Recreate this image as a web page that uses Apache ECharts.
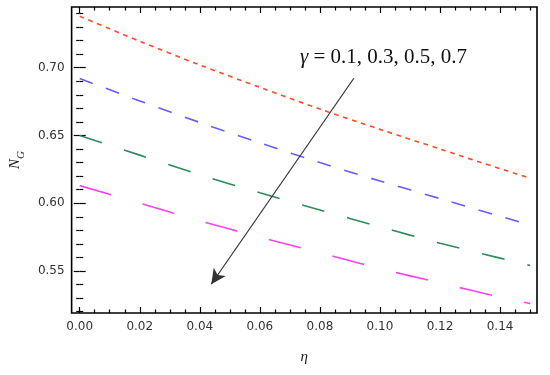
<!DOCTYPE html>
<html>
<head>
<meta charset="utf-8">
<script src="https://cdn.jsdelivr.net/npm/echarts@6/dist/echarts.min.js"></script>
<style>
html,body{margin:0;padding:0;background:#fff;}
#chart{width:550px;height:375px;}
</style>
</head>
<body>
<div id="chart"></div>
<script>
// ---- data ----
const eta = [0, 0.02, 0.04, 0.06, 0.08, 0.10, 0.12, 0.14, 0.15];
const ng1 = [0.738, 0.7195, 0.702, 0.6855, 0.6695, 0.6545, 0.640, 0.6255, 0.6185]; // gamma 0.1
const ng3 = [0.692, 0.6755, 0.6596, 0.6445, 0.6300, 0.6164, 0.6034, 0.5904, 0.584]; // gamma 0.3
const ng5 = [0.650, 0.6355, 0.621, 0.6077, 0.595, 0.5826, 0.5705, 0.5595, 0.554];  // gamma 0.5
const ng7 = [0.613, 0.600, 0.587, 0.575, 0.5635, 0.5517, 0.5412, 0.5307, 0.526];  // gamma 0.7
const xMajor = [0, 0.02, 0.04, 0.06, 0.08, 0.10, 0.12, 0.14];
const xMinor = [0.005,0.01,0.015,0.025,0.03,0.035,0.045,0.05,0.055,0.065,0.07,0.075,0.085,0.09,0.095,0.105,0.11,0.115,0.125,0.13,0.135,0.145,0.15];
const yMajor = [0.55, 0.60, 0.65, 0.70];
const yMinor = [0.52,0.53,0.54,0.56,0.57,0.58,0.59,0.61,0.62,0.63,0.64,0.66,0.67,0.68,0.69,0.71,0.72,0.73,0.74];
const arrowFrom = [0.0913, 0.6922];
const arrowTo = [0.0438, 0.5402];
const gammaLabel = '{g|γ} = 0.1, 0.3, 0.5, 0.7';

const X_MIN = -0.0027, X_MAX = 0.1523;
const Y_MIN = 0.519, Y_MAX = 0.7448;

function pair(xs, ys){ return xs.map((x,i)=>[x, ys[i]]); }

const labelStyle = {fontFamily:'DejaVu Sans', fontSize:12, color:'#333'};

function xAx(pos, vals, len, labels){
  return {
    type:'value', min:X_MIN, max:X_MAX, position:pos,
    axisLine:{show:false},
    splitLine:{show:false},
    axisTick:{show:true, inside:true, length:len, customValues:vals, lineStyle:{color:'#000', width:1.2}},
    axisLabel: labels ? Object.assign({show:true, margin:8, customValues:vals, formatter:v=>v.toFixed(2)}, labelStyle) : {show:false}
  };
}
function yAx(pos, vals, len, labels){
  return {
    type:'value', min:Y_MIN, max:Y_MAX, position:pos,
    axisLine:{show:false},
    splitLine:{show:false},
    axisTick:{show:true, inside:true, length:len, customValues:vals, lineStyle:{color:'#000', width:1.2}},
    axisLabel: labels ? Object.assign({show:true, margin:7, customValues:vals, formatter:v=>v.toFixed(2)}, labelStyle) : {show:false}
  };
}

const xAxes = [xAx('bottom', xMajor, 6, true), xAx('bottom', xMinor, 3.5, false), xAx('top', xMajor, 6, false), xAx('top', xMinor, 3.5, false)];
xAxes[0].name = 'η';
xAxes[0].nameLocation = 'middle';
xAxes[0].nameGap = 37;
xAxes[0].nameTextStyle = {fontFamily:'Liberation Serif', fontStyle:'italic', fontSize:15, color:'#222'};

const yAxes = [yAx('left', yMajor, 6, true), yAx('left', yMinor, 3.5, false), yAx('right', yMajor, 6, false), yAx('right', yMinor, 3.5, false)];
yAxes[0].name = '{n|N}{g|G}';
yAxes[0].nameLocation = 'middle';
yAxes[0].nameGap = 44;
yAxes[0].nameTextStyle = {
  color:'#222',
  rich:{
    n:{fontFamily:'Liberation Serif', fontStyle:'italic', fontSize:15, color:'#222', verticalAlign:'top'},
    g:{fontFamily:'Liberation Serif', fontStyle:'italic', fontSize:11, color:'#222', padding:[8,0,0,0], verticalAlign:'top'}
  }
};

function lineSeries(ys, color, dash, extra){
  return Object.assign({
    type:'line', data:pair(eta, ys), xAxisIndex:0, yAxisIndex:0,
    smooth:0.3, showSymbol:false, symbol:'none', silent:true,
    lineStyle:{color:color, width:1.6, type:dash},
    emphasis:{disabled:true}
  }, extra || {});
}

const chart = echarts.init(document.getElementById('chart'), null, {renderer:'canvas'});
chart.setOption({
  animation:false,
  backgroundColor:'#fff',
  title:{
    text:gammaLabel, left:295, top:42,
    textStyle:{fontFamily:'Liberation Serif', fontSize:21, fontWeight:'normal', color:'#111',
      rich:{g:{fontFamily:'Liberation Serif', fontStyle:'italic', fontSize:21, color:'#111'}}}
  },
  grid:{left:70, top:7, width:467, height:306, show:true, borderColor:'#000', borderWidth:1.6, backgroundColor:'transparent', containLabel:false},
  xAxis:xAxes,
  yAxis:yAxes,
  series:[
    lineSeries(ng1, '#ff4a2a', [4.8, 4.6]),
    lineSeries(ng3, '#6a5aff', [14, 14]),
    lineSeries(ng5, '#2e8b5a', [23.3, 23.3]),
    lineSeries(ng7, '#ff40ee', [32.8, 32.8], {
      markLine:{
        silent:true, animation:false,
        symbol:['none','arrow'], symbolSize:[11,15],
        label:{show:false},
        lineStyle:{color:'#333', width:1.2, type:'solid'},
        emphasis:{disabled:true},
        data:[[{coord:arrowFrom}, {coord:arrowTo}]]
      }
    })
  ]
});
</script>
</body>
</html>
